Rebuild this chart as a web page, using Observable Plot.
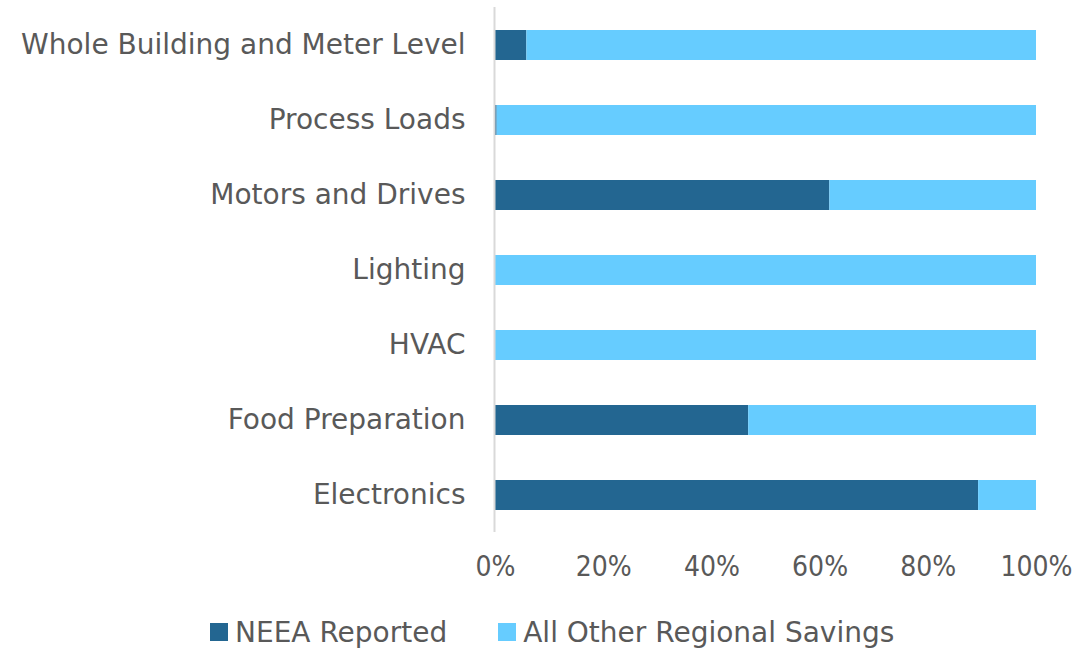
<!DOCTYPE html>
<html>
<head>
<meta charset="utf-8">
<script src="https://cdn.jsdelivr.net/npm/d3@7"></script>
<script src="https://cdn.jsdelivr.net/npm/@observablehq/plot@0.6"></script>
<style>
  html, body { margin: 0; padding: 0; background: #fff; }
  #chart svg { display: block; }
  .legend { display: flex; align-items: center; margin-left: 210px; margin-top: 10px; height: 40px;
    font-family: "DejaVu Sans", sans-serif; font-size: 28px; color: #595959; }
  .legend .item { display: flex; align-items: center; margin-right: 51px; }
  .legend .sw { width: 18px; height: 18px; margin-right: 7px; }
  #chart svg g[aria-label="y-axis tick label"] { font-family: "DejaVu Sans", sans-serif; }
</style>
</head>
<body>
<div id="chart"></div>
<div class="legend" id="legend"></div>
<script>
const categories = ["Whole Building and Meter Level", "Process Loads", "Motors and Drives", "Lighting", "HVAC", "Food Preparation", "Electronics"];
const neeaReported = [5.8, 0.3, 61.8, 0, 0, 46.8, 89.3];
const allOther = [94.2, 99.7, 38.2, 100, 100, 53.2, 10.7];
const seriesNames = ["NEEA Reported", "All Other Regional Savings"];
const seriesColors = ["#236691", "#66CCFF"];
const xTicks = [0, 20, 40, 60, 80, 100];

const rows = [];
categories.forEach((c, i) => {
  rows.push({category: c, series: seriesNames[0], value: neeaReported[i], order: 0});
  rows.push({category: c, series: seriesNames[1], value: allOther[i], order: 1});
});

const font = '"DejaVu Sans Condensed", "DejaVu Sans", sans-serif';

const chart = Plot.plot({
  width: 1074,
  height: 602,
  marginTop: 7,
  marginBottom: 70,
  marginLeft: 495,
  marginRight: 38,
  style: {fontFamily: font, fontSize: "28px", color: "#595959", background: "#fff"},
  x: {domain: [0, 100], ticks: xTicks, tickFormat: d => d + "%", tickSize: 0, tickPadding: 24, label: null},
  y: {domain: categories, paddingInner: 0.6, paddingOuter: 0.3, tickSize: 0, tickPadding: 30, label: null},
  color: {domain: seriesNames, range: seriesColors},
  marks: [
    Plot.barX(rows, Plot.stackX({x: "value", y: "category", fill: "series", order: "order"})),
    Plot.ruleX([0], {stroke: "#d9d9d9", strokeWidth: 2, dx: -1})
  ]
});
document.getElementById("chart").appendChild(chart);

const legend = document.getElementById("legend");
seriesNames.forEach((n, i) => {
  const item = document.createElement("div");
  item.className = "item";
  item.innerHTML = `<div class="sw" style="background:${seriesColors[i]}"></div><span>${n}</span>`;
  legend.appendChild(item);
});
</script>
</body>
</html>
